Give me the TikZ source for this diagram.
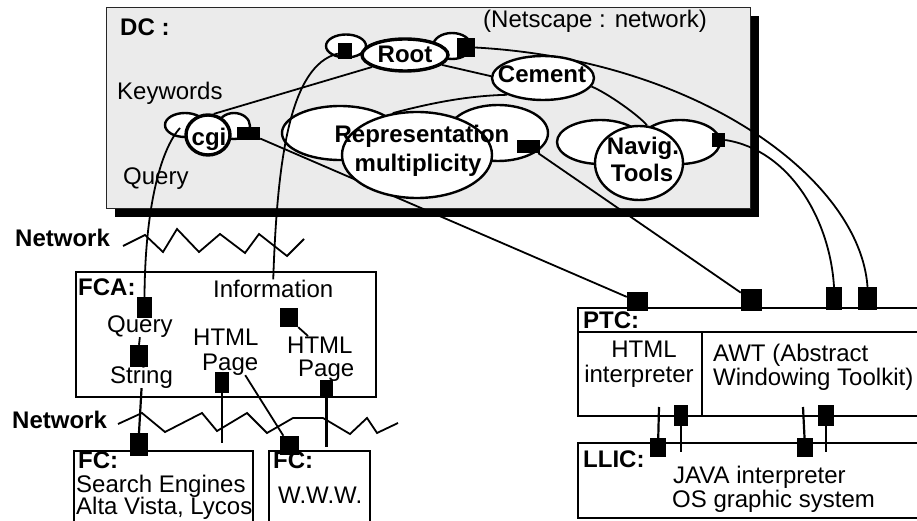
\documentclass[tikz,border=0pt]{standalone}
\usepackage{fontspec}
\setmainfont{Liberation Sans}
\usetikzlibrary{shapes.geometric,calc}
\newcommand\dfont{\fontsize{24}{26}\selectfont}
\pgfdeclarelayer{bg}
\pgfdeclarelayer{wires}
\pgfsetlayers{bg,wires,main}

\begin{document}
\begin{tikzpicture}[x=1pt,y=-1pt,
  lbl/.style={inner sep=0, font=\dfont, anchor=base west},
  clbl/.style={inner sep=0, font=\dfont, anchor=base},
  blbl/.style={inner sep=0, font=\dfont\bfseries, anchor=base west},
  cblbl/.style={inner sep=0, font=\dfont\bfseries, anchor=base},
  wire/.style={line width=1.8pt},
  stub/.style={line width=2.2pt},
  bub/.style={ellipse, draw, fill=white, line width=2.4pt, inner sep=0},
  hub/.style={bub, line width=3.4pt},
  sq/.style={rectangle, fill=black, inner sep=0},
  frame/.style={rectangle, draw, line width=2.4pt, inner sep=0, anchor=north west},
  zig/.style={line width=1.8pt, line join=miter}
]
\useasboundingbox (0,0) rectangle (917,521);
\clip (0,0) rectangle (917,521);

% ---- DC panel with its drop shadow
\begin{pgfonlayer}{bg}
  \node[fill=black, inner sep=0, minimum width=644, minimum height=201, anchor=north west] (dcShadow) at (115,16) {};
  \node[rectangle, draw=black!85, line width=1.2pt, fill=black!8, inner sep=0,
        minimum width=644, minimum height=201, anchor=north west] (dc) at (106,7) {};
\end{pgfonlayer}

% ---- bubbles
\node[bub, minimum width=40, minimum height=23] (rootL) at (346,46) {};
\node[bub, minimum width=38, minimum height=26] (rootR) at (452,46) {};
\node[hub, minimum width=86, minimum height=32] (root) at (405,55) {};
\node[bub, minimum width=102, minimum height=44] (cement) at (543,78) {};
\node[bub, minimum width=40, minimum height=24] (cgiL) at (185,125) {};
\node[bub, minimum width=32, minimum height=26] (cgiR) at (234,126) {};
\node[hub, minimum width=44, minimum height=40] (cgi) at (208,135) {};
\node[bub, minimum width=116, minimum height=54] (repL) at (340,133) {};
\node[bub, minimum width=100, minimum height=56] (repR) at (498,133) {};
\node[bub, minimum width=150, minimum height=86] (rep) at (417,155) {};
\node[bub, minimum width=86, minimum height=44] (navL) at (600,142) {};
\node[bub, minimum width=80, minimum height=44] (navR) at (680,142) {};
\node[bub, minimum width=88, minimum height=74] (nav) at (639,163) {};

% ---- component frames
\node[frame, minimum width=300, minimum height=125] (fca) at (75,271) {};
\node[frame, minimum width=179, minimum height=100] (fc1) at (73,450) {};
\node[frame, minimum width=101, minimum height=100] (fc2) at (268,450) {};
\node[frame, minimum width=360, minimum height=108] (ptc) at (577,307) {};
\node[frame, minimum width=360, minimum height=75] (llic) at (577,442) {};
\draw[line width=2.4pt] (577,332) -- (937,332);
\draw[line width=2.4pt] (702,332) -- (702,415);

% ---- ports
\node[sq, minimum width=14, minimum height=16] (sqRootL) at (345,51) {};
\node[sq, minimum width=18, minimum height=19] (sqRootR) at (466,47.5) {};
\node[sq, minimum width=23, minimum height=13] (sqCgi) at (248.5,133.5) {};
\node[sq, minimum width=23, minimum height=13] (sqRep) at (528.5,146.5) {};
\node[sq, minimum width=13, minimum height=14] (sqNav) at (718.5,140) {};
\node[sq, minimum width=21, minimum height=19] (sqP1) at (637.5,301.5) {};
\node[sq, minimum width=21, minimum height=22] (sqP2) at (751.5,300) {};
\node[sq, minimum width=16, minimum height=23] (sqP3) at (834,298.5) {};
\node[sq, minimum width=19, minimum height=23] (sqP4) at (867.5,298.5) {};
\node[sq, minimum width=14, minimum height=21] (sqHI) at (681,415.5) {};
\node[sq, minimum width=16, minimum height=21] (sqAWT) at (826,415.5) {};
\node[sq, minimum width=16, minimum height=19] (sqL1) at (658,447.5) {};
\node[sq, minimum width=16, minimum height=19] (sqL2) at (805,447.5) {};
\node[sq, minimum width=15, minimum height=21] (sqQuery) at (144.5,307.5) {};
\node[sq, minimum width=18, minimum height=22] (sqString) at (139,356) {};
\node[sq, minimum width=18, minimum height=19] (sqInfo) at (289,317.5) {};
\node[sq, minimum width=14, minimum height=21] (sqPage1) at (222,382.5) {};
\node[sq, minimum width=13, minimum height=18] (sqPage2) at (326.5,389) {};
\node[sq, minimum width=18, minimum height=23] (sqFC1) at (139,444.5) {};
\node[sq, minimum width=19, minimum height=19] (sqFC2) at (289.5,445.5) {};

% ---- labels
\node[blbl] (tDC) at (120,36) {DC :};
\node[lbl] (tNetscape) at (483,28) {(Netscape : network)};
\node[lbl] (tKeywords) at (117,100) {Keywords};
\node[lbl] (tQuery) at (123,185) {Query};
\node[cblbl] (tRoot) at (405,63) {Root};
\node[cblbl] (tCement) at (542,83) {Cement};
\node[cblbl] (tCgi) at (209,146) {cgi};
\node[cblbl] (tRep1) at (422,143) {Representation};
\node[cblbl] (tRep2) at (418,172) {multiplicity};
\node[cblbl] (tNav1) at (643,155) {Navig.};
\node[cblbl] (tNav2) at (642,182) {Tools};

\node[blbl] (tNet1) at (15,247) {Network};
\node[blbl] (tNet2) at (12,428) {Network};

\node[blbl] (tFCA) at (78,295) {FCA:};
\node[lbl] (tInfo) at (213,297) {Information};
\node[lbl] (tQuery2) at (107,332) {Query};
\node[lbl] (tString) at (110,383) {String};
\node[lbl] (tHtml1) at (193,345) {HTML};
\node[lbl] (tPage1) at (202,370) {Page};
\node[lbl] (tHtml2) at (287,353) {HTML};
\node[lbl] (tPage2) at (298,376) {Page};

\node[blbl] (tFC1) at (78,468) {FC:};
\node[lbl] (tSearch) at (76,492) {Search Engines};
\node[lbl] (tAlta) at (76,514) {Alta Vista, Lycos};
\node[blbl] (tFC2) at (273,468) {FC:};
\node[lbl] (tWWW) at (278,503) {W.W.W.};

\node[blbl] (tPTC) at (583,328) {PTC:};
\node[clbl] (tHI1) at (644,357) {HTML};
\node[clbl] (tHI2) at (639,382) {interpreter};
\node[lbl] (tAWT1) at (713,361) {AWT (Abstract};
\node[lbl] (tAWT2) at (713,385) {Windowing Toolkit)};
\node[blbl] (tLLIC) at (583,467) {LLIC:};
\node[lbl] (tJava) at (673,483) {JAVA interpreter};
\node[lbl] (tOS) at (672,507) {OS graphic system};

% ---- free ends
\coordinate (infoTip) at (308,336);
\coordinate (page1Tail) at (222,443);
\coordinate (page2Tail) at (326.5,447);
\coordinate (hiFoot) at (659,407);
\coordinate (hiTail) at (681,452);
\coordinate (awtFoot) at (803,407);
\coordinate (awtTail) at (826,452);

% ---- connectors running under the bubbles
\begin{pgfonlayer}{wires}
  \draw[wire] (root.200) -- (cgi.75);
  \draw[wire] (root.345) -- (cement.178);
  \draw[wire] (cement.205) .. controls +(-40,1) and +(38,-10) .. (rep.120);
  \draw[wire] (cement.350) .. controls +(15,6) and +(-8,-10) .. (nav.78);
  \draw[wire] (sqRootR.east) .. controls (700,60) and (860,180) .. (sqP4.north);
  \draw[wire] (sqNav.east) .. controls (790,150) and (830,220) .. (sqP3.north);
  \draw[wire] (sqCgi) -- (sqP1);
  \draw[wire] (sqRep) -- (sqP2);
\end{pgfonlayer}

% ---- connectors on top
\draw[wire] (sqRootL.200) .. controls +(-48,12) and +(4,-120) .. (tInfo.north);
\draw[wire] ($(cgiL.center)+(-5,3)$) .. controls +(-20,22) and +(0.5,-87) .. (sqQuery.north);
\draw[wire] (tQuery2.south) -- (sqString.north);
\draw[stub] (tString.south) -- (sqFC1.north);
\draw[wire] (sqInfo.south east) -- (infoTip);
\draw[stub] (sqPage1.south) -- (page1Tail);
\draw[stub] (sqPage2.south) -- (page2Tail);
\draw[wire] ($(tPage1.south)+(15,0)$) -- (sqFC2);
\draw[stub] (hiFoot) -- (sqL1);
\draw[stub] (sqHI) -- (hiTail);
\draw[stub] (awtFoot) -- (sqL2);
\draw[stub] (sqAWT) -- (awtTail);

% ---- network links
\draw[zig] (123,246) -- (145,235) -- (163,252) -- (177,229) -- (199,252) -- (220,234)
  -- (245,253) -- (259,234) -- (287,256) -- (304,239);
\draw[zig] (118,424) -- (142,413) -- (165,432) -- (202,413) -- (217,431) -- (247,413)
  -- (267,433) -- (293,418) -- (323,418) -- (350,434) -- (367,418) -- (377,433) -- (398,423);
\end{tikzpicture}
\end{document}
